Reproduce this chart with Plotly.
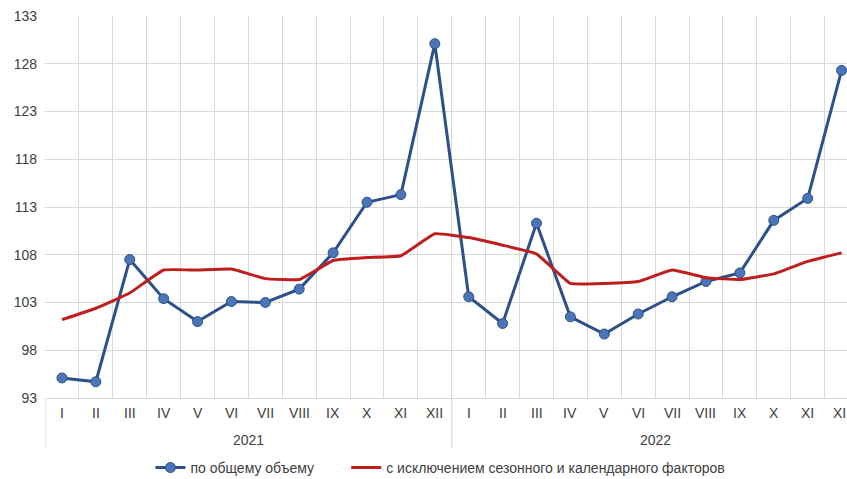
import plotly.graph_objects as go

# Monthly data, 2021–2022
months = ["I", "II", "III", "IV", "V", "VI", "VII", "VIII", "IX", "X", "XI", "XII"]
years = ["2021", "2022"]
month_labels = months * 2

total_volume = [95.1, 94.7, 107.5, 103.4, 101.0, 103.1, 103.0, 104.4, 108.2, 113.5, 114.3, 130.1,
                103.6, 100.8, 111.3, 101.5, 99.7, 101.8, 103.6, 105.2, 106.1, 111.6, 113.9, 127.3]
seasonally_adjusted = [101.2, 102.4, 104.0, 106.4, 106.4, 106.5, 105.5, 105.4, 107.4, 107.7, 107.9, 110.2,
                       109.8, 109.0, 108.1, 105.0, 105.0, 105.2, 106.4, 105.6, 105.4, 106.0, 107.3, 108.2]

y_ticks = [93, 98, 103, 108, 113, 118, 123, 128, 133]

x = list(range(len(month_labels)))
FONT = "Liberation Sans, Arial, sans-serif"
GRID = "#D9D9D9"
TEXT = "#404040"
GAP = "\u00a0" * 7  # extra room between the two legend entries

fig = go.Figure()
fig.add_trace(go.Scatter(
    x=x, y=total_volume, mode="lines+markers", name="по общему объему" + GAP,
    line=dict(color="#2E5089", width=3),
    marker=dict(size=10, color="#4A76B8", line=dict(color="#2E5089", width=1)),
))
fig.add_trace(go.Scatter(
    x=x, y=seasonally_adjusted, mode="lines", name="с исключением сезонного и календарного факторов",
    line=dict(color="#BE1E1E", width=3, shape="spline", smoothing=0.3),
))

# Month labels drawn as annotations so the last one runs off the right edge
for xi, lab in zip(x, month_labels):
    fig.add_annotation(x=xi, y=-0.04, xref="x", yref="paper", text=lab, showarrow=False,
                       yanchor="middle", font=dict(family=FONT, size=14, color=TEXT))

# Year labels and group dividers under the month axis
for i, yr in enumerate(years):
    fig.add_annotation(x=i * 12 + 5.5, y=-0.11, xref="x", yref="paper", text=yr,
                       showarrow=False, yanchor="middle",
                       font=dict(family=FONT, size=14, color=TEXT))
for b in [-0.5, 11.5]:
    fig.add_shape(type="line", x0=b, x1=b, y0=0, y1=-0.132, xref="x", yref="paper",
                  line=dict(color=GRID, width=1.2))

fig.update_layout(
    width=847, height=479,
    margin=dict(l=45, r=0, t=16, b=81),
    paper_bgcolor="white", plot_bgcolor="white",
    font=dict(family=FONT, size=14, color=TEXT),
    showlegend=True,
    legend=dict(orientation="h", x=0.52, xanchor="center", xref="container",
                y=0.023, yanchor="middle", yref="container",
                font=dict(family=FONT, size=14, color=TEXT), traceorder="normal"),
)
fig.update_xaxes(
    range=[-0.5, 23.16], tickmode="array", tickvals=x, ticktext=[""] * len(x),
    showgrid=False, zeroline=False, showline=True, linecolor=GRID, linewidth=1.2,
    ticks="",
    minor=dict(tickmode="array", tickvals=[i - 0.5 for i in range(25)], showgrid=True,
               gridcolor=GRID, gridwidth=1.2, ticks=""),
)
fig.update_yaxes(
    range=[93, 133], tickmode="array", tickvals=y_ticks,
    showgrid=True, gridcolor=GRID, gridwidth=1.2, zeroline=False, showline=False,
    ticks="", ticklabelstandoff=7,
    tickfont=dict(family=FONT, size=14, color=TEXT),
)

fig.write_html("out.html")
